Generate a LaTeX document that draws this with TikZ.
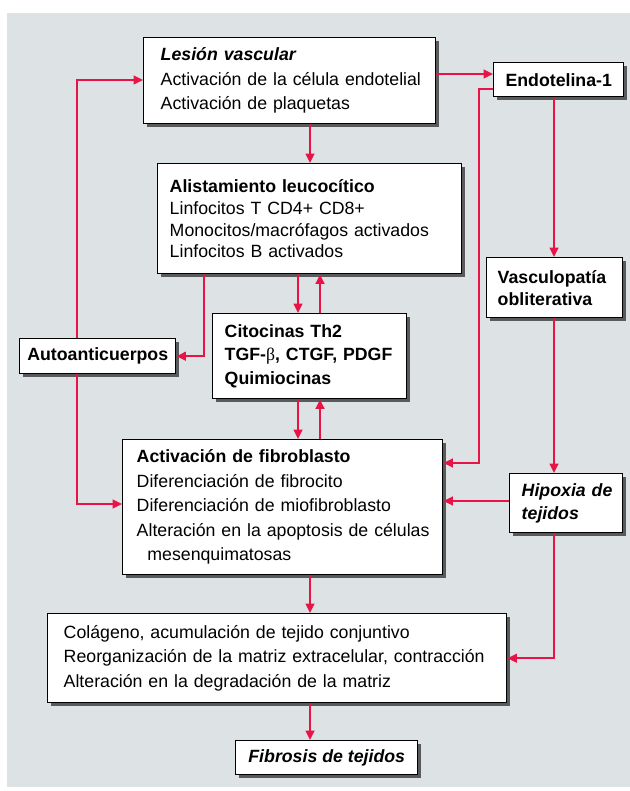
\documentclass[tikz,border=0pt]{standalone}
\usepackage{fontspec}
\setmainfont{Liberation Sans}
\newfontfamily\betafont{Liberation Serif}
\usetikzlibrary{arrows.meta,shadows}
\definecolor{bgcol}{RGB}{221,226,229}
\definecolor{arrred}{RGB}{232,20,72}
\begin{document}
\begin{tikzpicture}[x=0.75pt,y=-0.75pt,
  box/.style={draw=black, line width=1.1pt, fill=white,
    drop shadow={shadow xshift=2.4pt, shadow yshift=-2.4pt, opacity=0.6, fill=black},
    anchor=north west, inner ysep=0pt, inner xsep=0pt, align=left,
    font=\fontsize{13.3}{18.4}\selectfont},
  cbox/.style={box, align=center},
  arr/.style={draw=arrred, line width=1.6pt, -{Triangle[length=7pt,width=6.5pt]}}]
\useasboundingbox (0,0) rectangle (630,791);
\fill[bgcol] (7,13) rectangle (630,787);
% columns / rows
\coordinate (c77) at (77,0);
\coordinate (c204) at (204,0);
\coordinate (c298) at (298,0);
\coordinate (c320) at (320,0);
\coordinate (c310) at (310,0);
\coordinate (c479) at (479,0);
\coordinate (c554) at (554,0);
\coordinate (r74) at (0,74);
\coordinate (r80) at (0,80);
\coordinate (r89) at (0,89);
\coordinate (r463) at (0,463);
\coordinate (r501) at (0,501);
\coordinate (r504) at (0,504);
% boxes
\node[box, text width=219pt, minimum height=64.5pt] (L) at (143,37)
  {\leftskip=12.75pt {\bfseries\itshape Lesión vascular}\\ Activación de la célula endotelial\\ Activación de plaquetas\par};
\node[cbox, minimum width=97.5pt, minimum height=25.5pt] (E) at (493,62)
  {\bfseries Endotelina-1};
\node[box, text width=228pt, minimum height=82.5pt, font=\fontsize{13.3}{16.4}\selectfont] (A) at (157,163)
  {\leftskip=9pt {\bfseries Alistamiento leucocítico}\\ Linfocitos T CD4+ CD8+\\ Monocitos/macrófagos activados\\ Linfocitos B activados\par};
\node[box, text width=102pt, minimum height=45pt, font=\fontsize{13.3}{16.5}\selectfont] (V) at (486,257)
  {\leftskip=8.25pt\bfseries Vasculopatía\\ obliterativa\par};
\node[cbox, minimum width=117pt, minimum height=26.25pt] (U) at (19,338)
  {\bfseries Autoanticuerpos};
\node[box, text width=145.5pt, minimum height=63.75pt, font=\fontsize{13.3}{17.6}\selectfont] (C) at (212,313)
  {\leftskip=9pt\bfseries Citocinas Th2\\ TGF-{\mdseries\betafont β}, CTGF, PDGF\\ Quimiocinas\par};
\node[box, text width=240pt, minimum height=101.25pt] (F) at (122,439)
  {\leftskip=10.5pt {\bfseries Activación de fibroblasto}\\ Diferenciación de fibrocito\\ Diferenciación de miofibroblasto\\ Alteración en la apoptosis de células\\ \hspace*{8pt}mesenquimatosas\par};
\node[box, text width=84.75pt, minimum height=44.25pt, font=\fontsize{13.3}{17}\selectfont] (H) at (509,473)
  {\leftskip=9pt\bfseries\itshape Hipoxia de\\ tejidos\par};
\node[box, text width=344.25pt, minimum height=66.75pt] (K) at (47,613)
  {\leftskip=12pt Colágeno, acumulación de tejido conjuntivo\\ Reorganización de la matriz extracelular, contracción\\ Alteración en la degradación de la matriz\par};
\node[cbox, minimum width=136.5pt, minimum height=25.5pt] (Z) at (235,740)
  {\bfseries\itshape Fibrosis de tejidos};
% connectors
\draw[arr] (L.south -| c310) -- (A.north -| c310);
\draw[arr] (L.east |- r74) -- (E.west |- r74);
\draw[arr] (U.north -| c77) |- (L.west |- r80);
\draw[arr] (U.south -| c77) |- (F.west |- r504);
\draw[arr] (A.south -| c204) |- (U.east);
\draw[arr] (A.south -| c298) -- (C.north -| c298);
\draw[arr] (C.north -| c320) -- (A.south -| c320);
\draw[arr] (C.south -| c298) -- (F.north -| c298);
\draw[arr] (F.north -| c320) -- (C.south -| c320);
\draw[arr] (E.south -| c554) -- (V.north -| c554);
\draw[arr] (E.west |- r89) -- (c479 |- r89) -- (c479 |- r463) -- (F.east |- r463);
\draw[arr] (V.south -| c554) -- (H.north -| c554);
\draw[arr] (H.west |- r501) -- (F.east |- r501);
\draw[arr] (H.south -| c554) |- (K.east);
\draw[arr] (F.south -| c310) -- (K.north -| c310);
\draw[arr] (K.south -| c310) -- (Z.north -| c310);
\end{tikzpicture}
\end{document}
